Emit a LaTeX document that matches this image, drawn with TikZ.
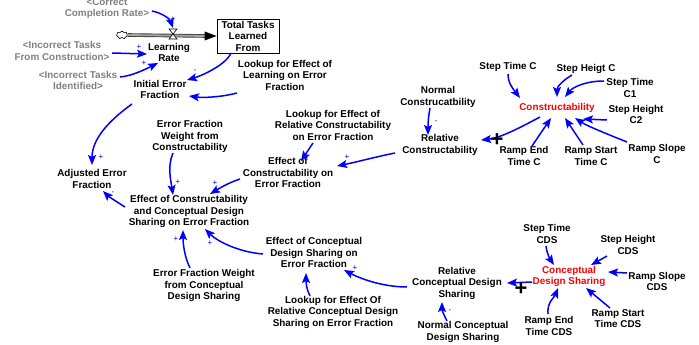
\documentclass[tikz,border=0pt]{standalone}
\usepackage{fontspec}
\setmainfont{Liberation Sans}
\usetikzlibrary{arrows.meta,calc,shapes.symbols}
\definecolor{linkblue}{RGB}{0,0,255}
\definecolor{shadowgray}{RGB}{128,128,128}
\begin{document}
\begin{tikzpicture}[x=1pt,y=-1pt,
  var/.style={font=\fontsize{9.9}{11.5}\selectfont\bfseries, align=center, inner sep=1pt, text=black},
  shadowvar/.style={var, text=shadowgray},
  redvar/.style={var, text=red},
  arr/.style={draw=linkblue, line width=1.5pt, -{Stealth[length=10pt,width=8pt,inset=2pt]}},
  pol/.style={font=\fontsize{8}{8}\selectfont, text=linkblue, inner sep=0},
  bigpol/.style={font=\fontsize{22}{22}\selectfont\bfseries, inner sep=0, text=black},
  stockbox/.style={var, draw=black, line width=0.8pt, fill=white, minimum width=62pt, minimum height=34pt, inner sep=0pt},
]
\useasboundingbox (0,0) rectangle (699,345);

% ---------- nodes ----------
\node[shadowvar] (ccr) at (107,8.5) {<Correct\\Completion Rate>};
\node[cloud, cloud puffs=7, draw=black, line width=0.6pt, minimum width=11pt, minimum height=8pt, inner sep=0pt] (cl) at (122,35) {};
\node[stockbox] (stock) at (248,36) {Total Tasks\\Learned\\From};
\coordinate (valve) at (173,34);
\node[var] (lr) at (169,52.5) {Learning\\Rate};
\node[shadowvar] (ictc) at (62,51) {<Incorrect Tasks\\From Construction>};
\node[shadowvar] (iti) at (78,80.5) {<Incorrect Tasks\\Identified>};
\node[var] (ief) at (160,89.5) {Initial Error\\Fraction};
\node[var] (lel) at (285,75) {Lookup for Effect of\\Learning on Error\\Fraction};
\node[var] (aef) at (92,179) {Adjusted Error\\Fraction};
\node[var] (efwc) at (190,136.5) {Error Fraction\\Weight from\\Constructability};
\node[var] (ecc) at (189,211.5) {Effect of Constructability\\and Conceptual Design\\Sharing on Error Fraction};
\node[var] (ece) at (288,172.5) {Effect of\\Constructability on\\Error Fraction};
\node[var] (lrc) at (333,125) {Lookup for Effect of\\Relative Constructability\\on Error Fraction};
\node[var] (nc) at (438,97) {Normal\\Construcatbility};
\node[var] (rc) at (440,145) {Relative\\Constructability};
\node[redvar] (con) at (557,107.5) {Constructability};
\node[var] (stc) at (508,67) {Step Time C};
\node[var] (shc) at (586,69) {Step Heigt C};
\node[var] (stc1) at (630,88) {Step Time\\C1};
\node[var] (shc2) at (636,114.5) {Step Height\\C2};
\node[var] (rec) at (524,156) {Ramp End\\Time C};
\node[var] (rsc) at (591,156) {Ramp Start\\Time C};
\node[var] (rslc) at (657,154) {Ramp Slope\\C};
\node[redvar] (cds) at (569,276.5) {Conceptual\\Design Sharing};
\node[var] (stcds) at (547,234) {Step Time\\CDS};
\node[var] (shcds) at (628,245) {Step Height\\CDS};
\node[var] (rslcds) at (657,281.5) {Ramp Slope\\CDS};
\node[var] (rscds) at (618,318.5) {Ramp Start\\Time CDS};
\node[var] (recds) at (549,326) {Ramp End\\Time CDS};
\node[var] (rcds) at (457,283) {Relative\\Conceptual Design\\Sharing};
\node[var] (ncds) at (463,332) {Normal Conceptual\\Design Sharing};
\node[var] (ecdse) at (314,252.5) {Effect of Conceptual\\Design Sharing on\\Error Fraction};
\node[var] (lcds) at (333,312) {Lookup for Effect Of\\Relative Conceptual Design\\Sharing on Error Fraction};
\node[var] (efwcds) at (204,285.5) {Error Fraction Weight\\from Conceptual\\Design Sharing};

% ---------- flow pipe ----------
\draw[line width=3.6pt, black!75] (cl.east) -- ($(stock.west)+(-10,0)$);
\draw[line width=1.8pt, black!35] (cl.east) -- ($(stock.west)+(-10,0)$);
\fill[black] (stock.west) -- ++(-12,-4.5) -- ++(0,9) -- cycle;
\draw[fill=white, line width=0.6pt] ($(valve)+(-4,-5)$) -- ($(valve)+(4,-5)$) -- ($(valve)+(-4,5)$) -- ($(valve)+(4,5)$) -- cycle;

% ---------- connectors ----------
\draw[arr] ($(ccr)+(45,2.5)$) .. controls +(10,2) and +(-3,-9) .. ($(valve)+(0,-6)$);
\draw[arr] ($(ictc)+(50,2)$) -- ($(lr)+(-22,1.5)$);
\draw[arr] ($(iti)+(42,-3.5)$) .. controls +(12,-1) and +(-12,6) .. ($(lr)+(-11,10.5)$);
\draw[arr] ($(stock)+(-17,17)$) .. controls +(-5,12) and +(14,-4) .. ($(ief)+(27,-9.5)$);
\draw[arr] ($(lel)+(-48,18)$) .. controls +(-15,4) and +(15,2) .. ($(ief)+(29,6.5)$);
\draw[arr] ($(ief)+(-28,14.5)$) .. controls +(-25,18) and +(0,-25) .. ($(aef)+(0,-14)$);
\draw[arr] ($(ecc)+(-64,-4.5)$) .. controls +(-8,-5) and +(5,5) .. ($(aef)+(11,12)$);
\draw[arr] ($(efwc)+(-17,16.5)$) .. controls +(-6,14) and +(-2,-14) .. ($(ecc)+(-16,-16.5)$);
\draw[arr] ($(ece)+(-48,6.5)$) .. controls +(-12,4) and +(10,-6) .. ($(ecc)+(21,-17.5)$);
\draw[arr] ($(lrc)+(-20,18)$) -- ($(ece)+(13,-11.5)$);
\draw[arr] ($(nc)+(-8,11)$) .. controls +(-2,10) and +(0,-8) .. ($(rc)+(-12,-10)$);
\draw[arr] ($(rc)+(-45,8)$) .. controls +(-20,4) and +(20,-4) .. ($(ece)+(49,-6.5)$);
\draw[arr] ($(con)+(-17,9.5)$) .. controls +(-15,8) and +(20,-2) .. ($(rc)+(41,-5)$);
\draw[arr] ($(stc)+(0,7)$) .. controls +(0,10) and +(-6,-8) .. ($(con)+(-37,-9.5)$);
\draw[arr] ($(shc)+(-14,6)$) .. controls +(-10,6) and +(0,-10) .. ($(con)+(0,-10.5)$);
\draw[arr] ($(stc1)+(-26,-7)$) .. controls +(-18,0) and +(8,-10) .. ($(con)+(8,-10.5)$);
\draw[arr] ($(shc2)+(-29,5.5)$) -- ($(con)+(26,11.5)$);
\draw[arr] ($(rec)+(8,-10)$) -- ($(con)+(-6,10.5)$);
\draw[arr] ($(rsc)+(-8,-11)$) -- ($(con)+(8,10.5)$);
\draw[arr] ($(rslc)+(-30,-12)$) .. controls +(-15,-6) and +(12,8) .. ($(con)+(18,10.5)$);
\draw[arr] ($(stcds)+(-1,12)$) .. controls +(1,8) and +(-4,-6) .. ($(cds)+(-15,-11.5)$);
\draw[arr] ($(shcds)+(-21,11)$) -- ($(cds)+(22,-11.5)$);
\draw[arr] ($(rslcds)+(-30,-8.5)$) -- ($(cds)+(39,-4.5)$);
\draw[arr] ($(rscds)+(-8,-10.5)$) -- ($(cds)+(17,11.5)$);
\draw[arr] ($(recds)+(-1,-12)$) .. controls +(-1,-12) and +(-4,10) .. ($(cds)+(-11,11.5)$);
\draw[arr] ($(cds)+(-37,5.5)$) -- ($(rcds)+(50,0)$);
\draw[arr] ($(ncds)+(-16,-11)$) .. controls +(-4,-8) and +(0,8) .. ($(rcds)+(-15,19)$);
\draw[arr] ($(rcds)+(-50,4)$) .. controls +(-25,0) and +(15,8) .. ($(ecdse)+(30,17.5)$);
\draw[arr] ($(lcds)+(-23,-16)$) .. controls +(-4,-8) and +(0,8) .. ($(ecdse)+(-8,20.5)$);
\draw[arr] ($(ecdse)+(-51,1.5)$) .. controls +(-25,-2) and +(12,12) .. ($(ecc)+(16,17.5)$);
\draw[arr] ($(efwcds)+(-14,-17.5)$) .. controls +(-6,-12) and +(0,12) .. ($(ecc)+(-6,18.5)$);

% ---------- polarity signs ----------
\node[pol] (p1) at (173,19) {+};
\node[pol] (p2) at (139,47) {+};
\node[pol] (p3) at (144,63) {+};
\node[pol] (p4) at (195,71) {-};
\node[pol] (p6) at (101,157) {+};
\node[pol] (p7) at (113,193) {-};
\node[pol] (p8) at (178,182) {+};
\node[pol] (p9) at (215,183) {+};
\node[pol] (p11) at (436,122) {-};
\node[pol] (p12) at (347,157) {+};
\node[pol] (p27) at (450,311) {-};
\node[pol] (p28) at (355,268) {+};
\node[pol] (p30) at (210,243) {+};
\node[pol] (p31) at (176,239) {+};
\node[bigpol] (b13) at (497,140) {+};
\node[bigpol] (b26) at (521,289) {+};
\end{tikzpicture}
\end{document}
